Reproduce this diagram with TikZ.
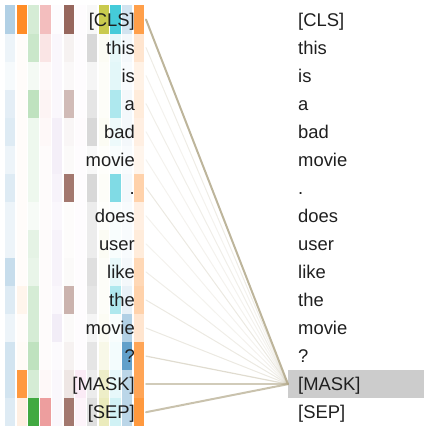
\documentclass[tikz,border=0pt]{standalone}
\usepackage{fontspec}
\setmainfont{Liberation Sans}
\definecolor{h0}{RGB}{31,119,180}
\definecolor{h1}{RGB}{255,127,14}
\definecolor{h2}{RGB}{44,160,44}
\definecolor{h3}{RGB}{214,39,40}
\definecolor{h4}{RGB}{148,103,189}
\definecolor{h5}{RGB}{140,86,75}
\definecolor{h6}{RGB}{227,119,194}
\definecolor{h7}{RGB}{127,127,127}
\definecolor{h8}{RGB}{188,189,34}
\definecolor{h9}{RGB}{23,190,207}
\definecolor{h10}{RGB}{31,119,180}
\definecolor{h11}{RGB}{255,127,14}
\definecolor{linkc}{RGB}{178,168,138}
\definecolor{hilite}{RGB}{204,204,204}
\begin{document}
\begin{tikzpicture}[x=1pt,y=-1pt,
  tok/.style={font=\fontsize{18.4}{20}\selectfont, text=black!88, inner sep=0pt},
  link/.style={draw=linkc, line cap=round}]
\useasboundingbox (0,0) rectangle (424,428);
% highlight of the selected token
\fill[hilite] (288,{19.5+28.05*13-14}) rectangle (424,{19.5+28.05*13+14});
% attention boxes
\foreach \r/\vals in {
 0/{0.35,0.9,0.2,0.3,0.02,0.9,0.02,0.05,0.8,0.8,0.2,0.75},
 1/{0.08,0.02,0.25,0.12,0.05,0.08,0.02,0.3,0.05,0.1,0.05,0.2},
 2/{0.04,0.02,0.05,0.03,0.05,0.04,0.02,0.08,0.03,0.12,0.03,0.1},
 3/{0.12,0.02,0.3,0.05,0.05,0.4,0.02,0.2,0.03,0.35,0.05,0.15},
 4/{0.15,0.02,0.08,0.03,0.1,0.05,0.03,0.3,0.05,0.08,0.05,0.12},
 5/{0.08,0.02,0.08,0.02,0.1,0.03,0.02,0.05,0.02,0.03,0.03,0.08},
 6/{0.15,0.02,0.08,0.02,0.08,0.8,0.02,0.3,0.03,0.55,0.05,0.35},
 7/{0.08,0.02,0.04,0.02,0.05,0.02,0.02,0.15,0.02,0.03,0.03,0.12},
 8/{0.08,0.02,0.12,0.02,0.08,0.02,0.02,0.15,0.05,0.03,0.03,0.15},
 9/{0.25,0.02,0.1,0.02,0.08,0.03,0.02,0.25,0.03,0.1,0.05,0.3},
 10/{0.15,0.08,0.2,0.02,0.05,0.45,0.02,0.2,0.03,0.35,0.1,0.35},
 11/{0.08,0.02,0.2,0.02,0.12,0.03,0.02,0.08,0.05,0.03,0.35,0.2},
 12/{0.2,0.03,0.3,0.02,0.03,0.08,0.02,0.2,0.1,0.05,0.7,0.7},
 13/{0.2,0.8,0.2,0.03,0.05,0.15,0.15,0.15,0.25,0.1,0.3,0.7},
 14/{0.15,0.12,0.9,0.45,0.05,0.8,0.08,0.25,0.3,0.2,0.3,0.8}}{
  \pgfmathsetmacro\yt{5.5+28.05*\r}
  \foreach \a [count=\j from 0] in \vals {
    \pgfmathsetmacro\xl{5+11.7*\j}
    \fill[h\j, fill opacity=\a] (\xl,\yt) rectangle ++(10.4,28.05);
  }
}
% connector end points
\foreach \i in {0,...,14} {
  \coordinate (s\i) at (146,{19.5+28.05*\i});
}
\coordinate (tgt) at (288,{19.5+28.05*13});
% connectors
\foreach \i/\op/\w in {0/0.85/2, 1/0.22/1, 2/0.15/1, 3/0.2/1, 4/0.15/1,
  5/0.15/1, 6/0.25/1, 7/0.15/1, 8/0.15/1, 9/0.2/1, 10/0.25/1, 11/0.25/1,
  12/0.4/1.2, 13/0.6/1.6, 14/0.7/2} {
  \draw[link, line width=\w pt, draw opacity=\op] (s\i) -- (tgt);
}
% tokens
\foreach \t [count=\i from 0] in {{[CLS]},this,is,a,bad,movie,.,does,user,like,the,movie,?,{[MASK]},{[SEP]}} {
  \node[tok, anchor=base east] (L\i) at (135,{19.5+28.05*\i+6.6}) {\t};
  \node[tok, anchor=base west] (R\i) at (298,{19.5+28.05*\i+6.6}) {\t};
}
\end{tikzpicture}
\end{document}
